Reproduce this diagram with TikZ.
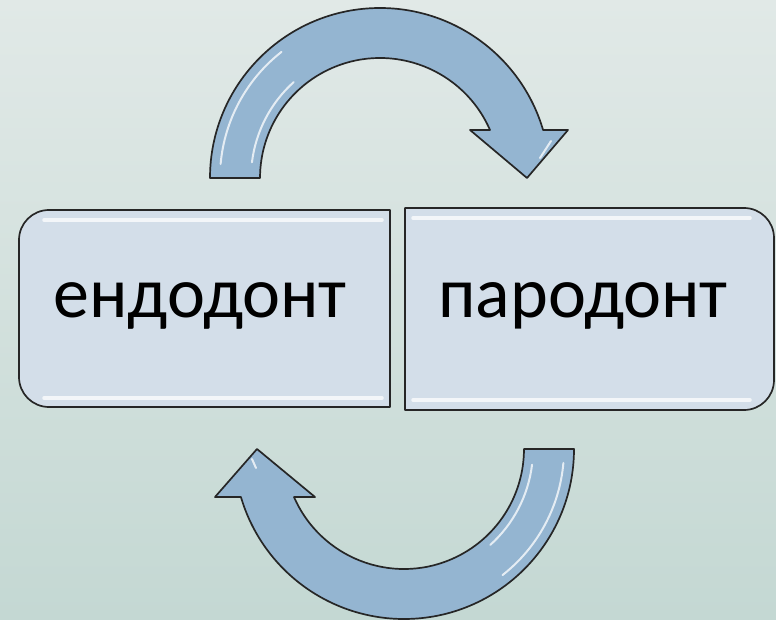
\documentclass[tikz,border=0pt]{standalone}
\usepackage{fontspec}
\setmainfont{Carlito}
\begin{document}
\begin{tikzpicture}[x=1pt,y=-1pt,
  outline/.style={draw=black!85,line width=1.7pt,line join=round},
  boxshape/.style={outline,fill=boxfill},
  arrowshape/.style={outline,fill=arrowfill},
  gloss/.style={draw=white,line cap=round,opacity=.75},
  label/.style={font=\fontsize{72}{76}\selectfont,text=black,anchor=base,inner sep=0pt}]
\definecolor{bgtop}{HTML}{E1E9E7}
\definecolor{bgbottom}{HTML}{C4D8D3}
\definecolor{boxfill}{HTML}{D3DEE9}
\definecolor{arrowfill}{HTML}{94B5D1}

% background
\shade[top color=bgtop,bottom color=bgbottom] (0,0) rectangle (776,620);
\useasboundingbox (0,0) rectangle (776,620);

% left box, rounded on the left side
\path[boxshape] (390,210) -- (49,210) .. controls (32.4,210) and (19,223.4) .. (19,240)
  -- (19,377) .. controls (19,393.6) and (32.4,407) .. (49,407) -- (390,407) -- cycle;
\draw[gloss,line width=3.5pt] (44,220) -- (382,220);
\draw[gloss,line width=3.5pt] (44,398) -- (382,398);

% right box, rounded on the right side
\path[boxshape] (405,208) -- (744,208) .. controls (760.6,208) and (774,221.4) .. (774,238)
  -- (774,380) .. controls (774,396.6) and (760.6,410) .. (744,410) -- (405,410) -- cycle;
\draw[gloss,line width=3.5pt] (413,218) -- (750,218);
\draw[gloss,line width=3.5pt] (413,400) -- (750,400);

% labels
\node[label] (endo) at (200,317) {ендодонт};
\node[label] (paro) at (583,317) {пародонт};

% upper curved arrow (centre 380,178)
\path[arrowshape] (210,178) arc[start angle=180,end angle=343.6,radius=170]
  -- (568,130) -- (527,178) -- (470,130) -- (490,130)
  arc[start angle=336.42,end angle=180,radius=120] -- cycle;
\draw[gloss,line width=2pt] (380,178) ++(185:160) arc[start angle=185,end angle=232,radius=160];
\draw[gloss,line width=2pt] (380,178) ++(187:129) arc[start angle=187,end angle=228,radius=129];
\draw[gloss,line width=2pt] (540,158) -- (551,141);

% lower curved arrow (centre 404,449)
\path[arrowshape] (574,449) arc[start angle=0,end angle=163.6,radius=170]
  -- (215,497) -- (257,449) -- (315,497) -- (294,497)
  arc[start angle=156.42,end angle=0,radius=120] -- cycle;
\draw[gloss,line width=2pt] (404,449) ++(5:160) arc[start angle=5,end angle=52,radius=160];
\draw[gloss,line width=2pt] (404,449) ++(7:129) arc[start angle=7,end angle=48,radius=129];
\draw[gloss,line width=2pt] (252,459) -- (256,468);
\end{tikzpicture}
\end{document}
